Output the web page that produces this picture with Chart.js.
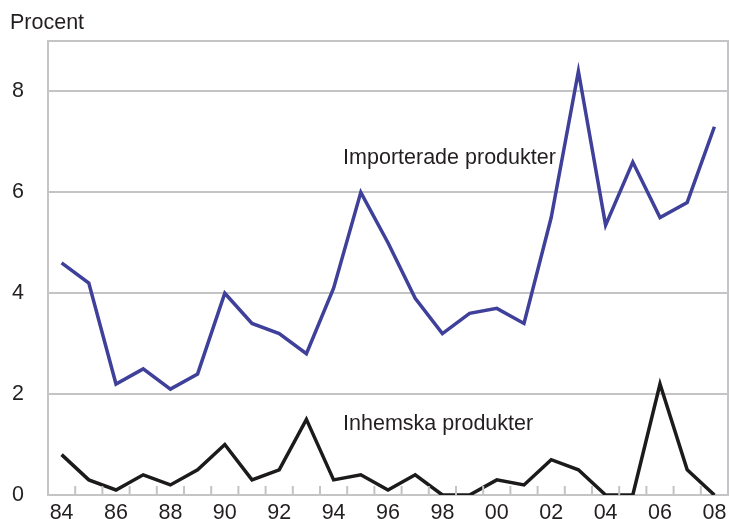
<!DOCTYPE html>
<html>
<head>
<meta charset="utf-8">
<script src="https://cdn.jsdelivr.net/npm/chart.js@4"></script>
<style>
  html, body { margin: 0; padding: 0; background: #fff; }
  #wrap { width: 729px; height: 519px; }
</style>
</head>
<body>
<div id="wrap"><canvas id="chart" width="729" height="519"></canvas></div>
<script>
// år (x-axel)
const years = ["84","85","86","87","88","89","90","91","92","93","94","95","96",
               "97","98","99","00","01","02","03","04","05","06","07","08"];

// Importerade produkter, procent
const imported = [4.6, 4.2, 2.2, 2.5, 2.1, 2.4, 4.0, 3.4, 3.2, 2.8, 4.1, 6.0, 5.0,
                  3.9, 3.2, 3.6, 3.7, 3.4, 5.5, 8.4, 5.35, 6.6, 5.5, 5.8, 7.3];

// Inhemska produkter, procent
const domestic = [0.8, 0.3, 0.1, 0.4, 0.2, 0.5, 1.0, 0.3, 0.5, 1.5, 0.3, 0.4, 0.1,
                  0.4, 0.0, 0.0, 0.3, 0.2, 0.7, 0.5, 0.0, 0.0, 2.2, 0.5, 0.0];

// y-axelns skala
const yTicks = [0, 2, 4, 6, 8];
const yMax = 9;

// etiketter i diagrammet (x = kategoriindex, y = procent)
const seriesLabels = [
  { text: "Importerade produkter", x: 10.35, y: 6.67 },
  { text: "Inhemska produkter", x: 10.35, y: 1.4 }
];

const FONT = "Liberation Sans, Arial, sans-serif";
const FONT_SIZE = 21.5;
const TEXT_COLOR = "#231f20";
const GRID_COLOR = "#c4c4c6";

// ram, tickmarkeringar och textetiketter
const decorPlugin = {
  id: "decor",
  afterDraw(chart) {
    const ctx = chart.ctx;
    const area = chart.chartArea;
    const xs = chart.scales.x;
    const ys = chart.scales.y;
    ctx.save();

    // övre och högra ramen
    ctx.strokeStyle = GRID_COLOR;
    ctx.lineWidth = 2;
    ctx.beginPath();
    ctx.moveTo(area.left, area.top);
    ctx.lineTo(area.right, area.top);
    ctx.lineTo(area.right, area.bottom);
    ctx.stroke();

    // små tickmarkeringar mellan åren, inåt i diagrammet
    ctx.beginPath();
    for (let i = 0; i <= years.length; i++) {
      const px = xs.getPixelForValue(i - 0.5);
      ctx.moveTo(px, area.bottom);
      ctx.lineTo(px, area.bottom - 9);
    }
    ctx.stroke();

    // seriernas namn
    ctx.fillStyle = TEXT_COLOR;
    ctx.font = FONT_SIZE + "px " + FONT;
    ctx.textAlign = "left";
    ctx.textBaseline = "middle";
    seriesLabels.forEach((l) => {
      ctx.fillText(l.text, xs.getPixelForValue(l.x), ys.getPixelForValue(l.y));
    });

    // enhet
    ctx.textBaseline = "alphabetic";
    ctx.fillText("Procent", 10, 29);
    ctx.restore();
  }
};

new Chart(document.getElementById("chart"), {
  type: "line",
  data: {
    labels: years,
    datasets: [
      {
        label: "Importerade produkter",
        data: imported,
        borderColor: "#3f409a",
        borderWidth: 3.5,
        pointRadius: 0,
        tension: 0,
        borderJoinStyle: "miter"
      },
      {
        label: "Inhemska produkter",
        data: domestic,
        borderColor: "#1c1a1b",
        borderWidth: 3.5,
        pointRadius: 0,
        tension: 0,
        borderJoinStyle: "miter"
      }
    ]
  },
  options: {
    responsive: false,
    animation: false,
    layout: { padding: { top: 41, right: 1, left: 0, bottom: 0 } },
    plugins: {
      legend: { display: false },
      tooltip: { enabled: false }
    },
    scales: {
      x: {
        offset: true,
        grid: { display: false, drawTicks: false },
        border: { display: true, color: GRID_COLOR, width: 2 },
        ticks: {
          color: TEXT_COLOR,
          font: { family: FONT, size: FONT_SIZE },
          padding: 5,
          maxRotation: 0,
          autoSkip: false,
          callback: (v, i) => (i % 2 === 0 ? years[i] : "")
        },
        afterFit: (s) => {
          s.height = 24;
          s.paddingLeft = 0;
          s.paddingRight = 0;
        }
      },
      y: {
        min: 0,
        max: yMax,
        afterBuildTicks: (s) => { s.ticks = yTicks.map((v) => ({ value: v })); },
        grid: {
          drawTicks: false,
          color: (c) => (c.tick && c.tick.value === 0 ? "rgba(0,0,0,0)" : GRID_COLOR),
          lineWidth: 2
        },
        border: { display: true, color: GRID_COLOR, width: 2 },
        ticks: {
          color: TEXT_COLOR,
          font: { family: FONT, size: FONT_SIZE },
          padding: 24
        },
        afterFit: (s) => {
          s.width = 48;
          s.paddingTop = 0;
          s.paddingBottom = 0;
        }
      }
    }
  },
  plugins: [decorPlugin]
});
</script>
</body>
</html>
